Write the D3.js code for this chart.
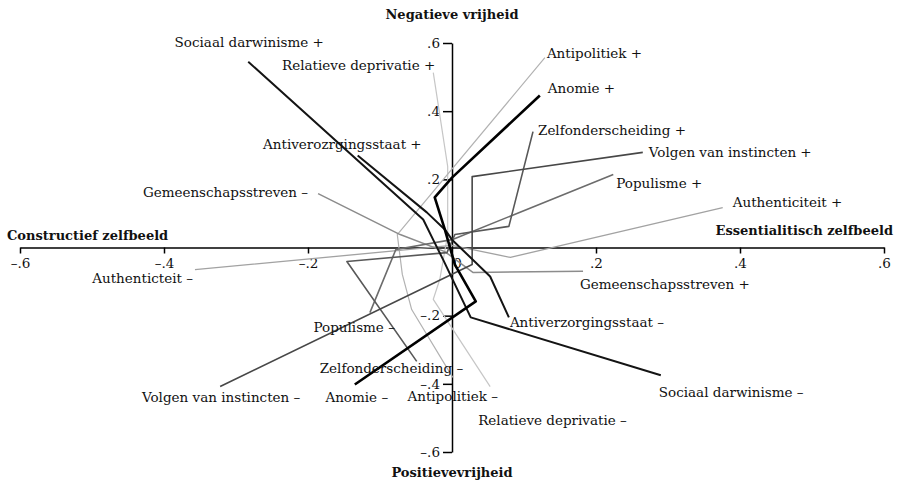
<!DOCTYPE html>
<html>
<head>
<meta charset="utf-8">
<script src="https://cdn.jsdelivr.net/npm/d3@7"></script>
<style>
    body { margin: 0; background: #fff; }
    #chart text { font-family: 'DejaVu Serif', serif; font-size: 13.5px; fill: #111; }
    #chart .title { font-weight: bold; font-size: 13px; }
    #chart .axis path, #chart .axis line { stroke: #000; stroke-width: 1.5; }
</style>
</head>
<body>
<div id="chart"></div>
<script>
// axis ticks
const tickValues = [-0.6, -0.4, -0.2, 0, 0.2, 0.4, 0.6]
const tickLabels = ['–.6', '–.4', '–.2', '0', '.2', '.4', '.6']

// axis titles
const titleTop = 'Negatieve vrijheid'
const titleBottom = 'Positievevrijheid'
const titleLeft = 'Constructief zelfbeeld'
const titleRight = 'Essentialitisch zelfbeeld'

// variables, ordered from the "+" end to the "–" end
const names = ['Relatieve deprivatie', 'Antipolitiek', 'Authenticiteit', 'Gemeenschapsstreven',
    'Populisme', 'Zelfonderscheiding', 'Volgen van instincten', 'Sociaal darwinisme',
    'Antiverzorgingsstaat', 'Anomie']
const plusLabels = ['Relatieve deprivatie +', 'Antipolitiek +', 'Authenticiteit +', 'Gemeenschapsstreven +',
    'Populisme +', 'Zelfonderscheiding +', 'Volgen van instincten +', 'Sociaal darwinisme +',
    'Antiverozrgingsstaat +', 'Anomie +']
const minusLabels = ['Relatieve deprivatie –', 'Antipolitiek –', 'Authenticteit –', 'Gemeenschapsstreven –',
    'Populisme –', 'Zelfonderscheiding –', 'Volgen van instincten –', 'Sociaal darwinisme –',
    'Antiverzorgingsstaat –', 'Anomie –']

const relatieveDeprivatie = [[-0.026, 0.513], [-0.006, 0.238], [-0.006, 0.038], [-0.017, -0.094], [-0.026, -0.152], [0.053, -0.408]]
const antipolitiek = [[0.129, 0.557], [-0.076, 0.038], [-0.069, -0.079], [-0.056, -0.182], [0.001, -0.381]]
const authenticiteit = [[0.376, 0.117], [0.081, -0.029], [0.0, 0.006], [-0.357, -0.065]]
const gemeenschapsstreven = [[0.182, -0.070], [0.029, -0.073], [-0.010, -0.012], [-0.072, 0.038], [-0.186, 0.158]]
const populisme = [[0.224, 0.214], [0.0, 0.023], [-0.078, -0.006], [-0.114, -0.191]]
const zelfonderscheiding = [[0.1125, 0.340], [0.079, 0.062], [0.004, 0.038], [-0.007, -0.015], [-0.146, -0.041], [-0.049, -0.334]]
const volgenVanInstincten = [[0.265, 0.279], [0.028, 0.208], [0.028, -0.050], [-0.322, -0.408]]
const sociaalDarwinisme = [[-0.283, 0.545], [-0.040, 0.082], [-0.025, 0.018], [-0.0125, -0.035], [0.026, -0.205], [0.290, -0.375]]
const antiverzorgingsstaat = [[-0.131, 0.270], [-0.035, 0.103], [-0.010, 0.053], [0.0, 0.023], [0.053, -0.085], [0.079, -0.205]]
const anomie = [[0.122, 0.446], [0.0, 0.205], [-0.024, 0.147], [-0.010, 0.053], [0.004, -0.050], [0.033, -0.158], [-0.135, -0.402]]

const series = [relatieveDeprivatie, antipolitiek, authenticiteit, gemeenschapsstreven, populisme,
    zelfonderscheiding, volgenVanInstincten, sociaalDarwinisme, antiverzorgingsstaat, anomie]

// line styles (same order as names)
const strokes = ['#c6c6c6', '#b2b2b2', '#a2a2a2', '#8c8c8c', '#6c6c6c', '#585858', '#474747', '#141414', '#141414', '#000']
const widths = [1.2, 1.2, 1.3, 1.5, 1.6, 1.6, 1.6, 2, 2, 2.6]

// label placement: [anchor, dx, dy] relative to the line end, in px
const plusPlace = [['end', 2, -3], ['start', 2, 0], ['start', 10, -1], ['start', -3, 18], ['start', 3, 13],
    ['start', 5, 3], ['start', 6, 5], ['middle', 1, -15], ['end', 64, -6], ['start', 8, -2]]
const minusPlace = [['start', -12, 38], ['middle', 0, 24], ['end', -2, 13], ['end', -10, 3], ['end', 25, 19],
    ['start', -97, 12], ['middle', 1, 15], ['start', -2, 22], ['start', 1, 10], ['middle', 2, 17]]

const width = 905
const height = 480

const svg = d3.select('#chart')
    .append('svg')
    .attr('width', width)
    .attr('height', height)

const xScale = d3.scaleLinear().domain([-0.6, 0.6]).range([20, 884])
const yScale = d3.scaleLinear().domain([-0.6, 0.6]).range([452, 43])

const fmt = d => tickLabels[tickValues.indexOf(d)]

//append xaxis
const xAxis = svg.append('g')
    .attr('class', 'axis')
    .attr('transform', 'translate(0,' + yScale(0) + ')')
    .call(d3.axisBottom(xScale).tickValues(tickValues).tickFormat(fmt).tickSize(6).tickSizeOuter(0).tickPadding(5))
xAxis.selectAll('text').attr('dx', d => d === 0 ? 5 : 0)
xAxis.selectAll('.tick').filter(d => d === 0).select('line').remove()

//append yaxis
svg.append('g')
    .attr('class', 'axis')
    .attr('transform', 'translate(' + xScale(0) + ',0)')
    .call(d3.axisLeft(yScale).tickValues(tickValues.filter(d => d !== 0)).tickFormat(fmt).tickSize(9).tickSizeOuter(0).tickPadding(3))

svg.selectAll('.axis text').style('font-size', '13.5px').style('fill', '#111')

//lines for each variable
const line = d3.line()
    .x(d => xScale(d[0]))
    .y(d => yScale(d[1]))

svg.append('g')
    .selectAll('path')
    .data(series)
    .join('path')
    .attr('d', line)
    .attr('fill', 'none')
    .attr('stroke', (d, i) => strokes[i])
    .attr('stroke-width', (d, i) => widths[i])
    .attr('stroke-linejoin', 'round')

//labels at both ends
series.forEach((pts, i) => {
    const first = pts[0]
    const last = pts[pts.length - 1]
    svg.append('text')
        .attr('x', xScale(first[0]) + plusPlace[i][1])
        .attr('y', yScale(first[1]) + plusPlace[i][2])
        .attr('text-anchor', plusPlace[i][0])
        .text(plusLabels[i])
    svg.append('text')
        .attr('x', xScale(last[0]) + minusPlace[i][1])
        .attr('y', yScale(last[1]) + minusPlace[i][2])
        .attr('text-anchor', minusPlace[i][0])
        .text(minusLabels[i])
})

//axis titles
svg.append('text').attr('class', 'title')
    .attr('x', xScale(0)).attr('y', 19)
    .attr('text-anchor', 'middle')
    .text(titleTop)

svg.append('text').attr('class', 'title')
    .attr('x', xScale(0)).attr('y', 477)
    .attr('text-anchor', 'middle')
    .text(titleBottom)

svg.append('text').attr('class', 'title')
    .attr('x', 7).attr('y', 240)
    .text(titleLeft)

svg.append('text').attr('class', 'title')
    .attr('x', 893).attr('y', 235)
    .attr('text-anchor', 'end')
    .text(titleRight)
</script>
</body>
</html>
